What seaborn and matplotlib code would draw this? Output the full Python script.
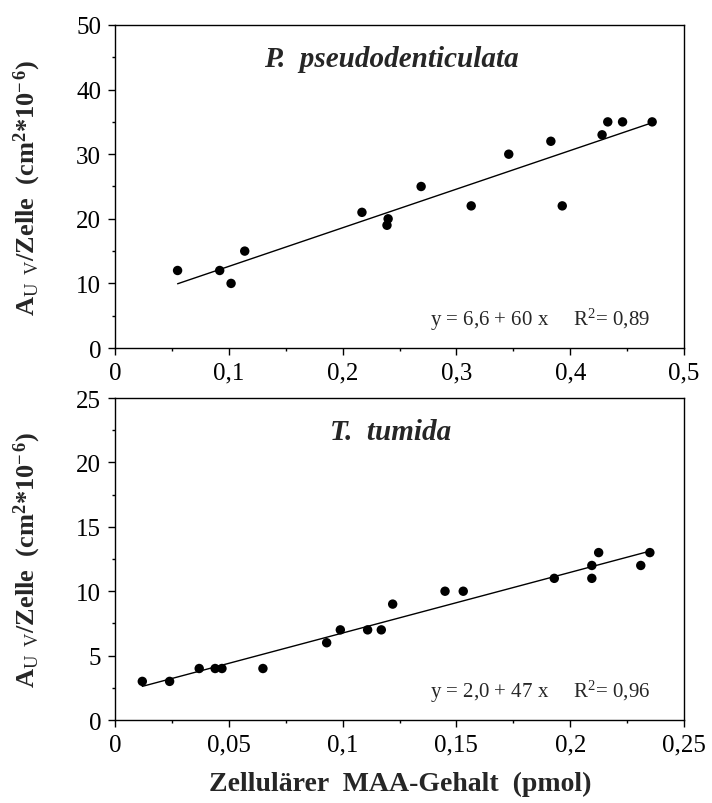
import numpy as np
import pandas as pd
import matplotlib
matplotlib.use('Agg')
import matplotlib.pyplot as plt
from matplotlib.ticker import AutoMinorLocator
import seaborn as sns

# P. pseudodenticulata: cellular MAA content (pmol) vs A_UV per cell
pp_maa = [0.055, 0.092, 0.102, 0.114, 0.217, 0.239, 0.240, 0.269,
          0.313, 0.346, 0.383, 0.393, 0.428, 0.433, 0.446, 0.472]
pp_auv = [12, 12, 10, 15, 21, 19, 20, 25, 22, 30, 32, 22, 33, 35, 35, 35]

# T. tumida
tt_maa = [0.012, 0.024, 0.037, 0.044, 0.047, 0.065, 0.093, 0.099, 0.111,
          0.117, 0.122, 0.145, 0.153, 0.193, 0.2095, 0.2095, 0.2125, 0.231, 0.235]
tt_auv = [3, 3, 4, 4, 4, 4, 6, 7, 7, 7, 9, 10, 10, 11, 12, 11, 13, 12, 13]

pp_xticks = [0, 0.1, 0.2, 0.3, 0.4, 0.5]
pp_xticklabels = ['0', '0,1', '0,2', '0,3', '0,4', '0,5']
pp_yticks = [0, 10, 20, 30, 40, 50]
tt_xticks = [0, 0.05, 0.1, 0.15, 0.2, 0.25]
tt_xticklabels = ['0', '0,05', '0,1', '0,15', '0,2', '0,25']
tt_yticks = [0, 5, 10, 15, 20, 25]

pp_title = 'P.  pseudodenticulata'
tt_title = 'T.  tumida'
pp_eqn = 'y = 6,6 + 60 x     R$^2$= 0,89'
tt_eqn = 'y = 2,0 + 47 x     R$^2$= 0,96'

ylab = r'A$_{\mathrm{U\ \ V}}$/Zelle  (cm$^{\mathbf{2}}$*10$^{\mathbf{-}\,\mathbf{6}}$)'
xlab = 'Zellulärer  MAA-Gehalt  (pmol)'

sns.set_theme(style='ticks')
plt.rcParams['font.family'] = ['Liberation Serif', 'DejaVu Serif']
plt.rcParams['mathtext.fontset'] = 'custom'
plt.rcParams['mathtext.rm'] = 'Liberation Serif'
plt.rcParams['mathtext.it'] = 'Liberation Serif:italic'
plt.rcParams['mathtext.bf'] = 'Liberation Serif:bold'


def panel(ax, x, y, xticks, xticklabels, yticks, title, eqn):
    sns.regplot(x=x, y=y, ax=ax, ci=None, truncate=True, color='black',
                scatter_kws={'s': 46, 'edgecolor': 'none', 'alpha': 1},
                line_kws={'lw': 1.0})
    ax.set_xlim(xticks[0], xticks[-1])
    ax.set_ylim(yticks[0], yticks[-1])
    ax.set_xticks(xticks)
    ax.set_xticklabels(xticklabels)
    ax.set_yticks(yticks)
    ax.xaxis.set_minor_locator(AutoMinorLocator(2))
    ax.yaxis.set_minor_locator(AutoMinorLocator(2))
    ax.tick_params(which='major', direction='out', length=5, width=1,
                   labelsize=18, pad=5, color='black', labelcolor='black')
    ax.tick_params(which='minor', direction='out', length=2.5, width=1, color='black')
    ax.tick_params(top=False, right=False, which='both')
    for s in ax.spines.values():
        s.set_color('black')
        s.set_linewidth(1.0)
    ax.set_xlabel('')
    ax.set_ylabel('')
    ax.text(0.485, 0.897, title, transform=ax.transAxes, ha='center', va='center',
            fontsize=21, fontweight='bold', fontstyle='italic')
    ax.text(0.94, 0.09, eqn, transform=ax.transAxes, ha='right', va='center',
            fontsize=15)


fig = plt.figure(figsize=(7.12, 8.04), dpi=100)
ax1 = fig.add_axes([0.1615, 0.5659, 0.7992, 0.4018])
ax2 = fig.add_axes([0.1615, 0.1032, 0.7992, 0.4005])

panel(ax1, pp_maa, pp_auv, pp_xticks, pp_xticklabels, pp_yticks, pp_title, pp_eqn)
panel(ax2, tt_maa, tt_auv, tt_xticks, tt_xticklabels, tt_yticks, tt_title, tt_eqn)

fig.text(27/712, 0.7668, ylab, rotation=90, ha='center', va='center',
         fontsize=19, fontweight='bold')
fig.text(27/712, 0.3035, ylab, rotation=90, ha='center', va='center',
         fontsize=19, fontweight='bold')
fig.text(400/712, 1 - 784/804, xlab, ha='center', va='center',
         fontsize=20, fontweight='bold')

plt.savefig('out.png', dpi=100)
plt.close()
